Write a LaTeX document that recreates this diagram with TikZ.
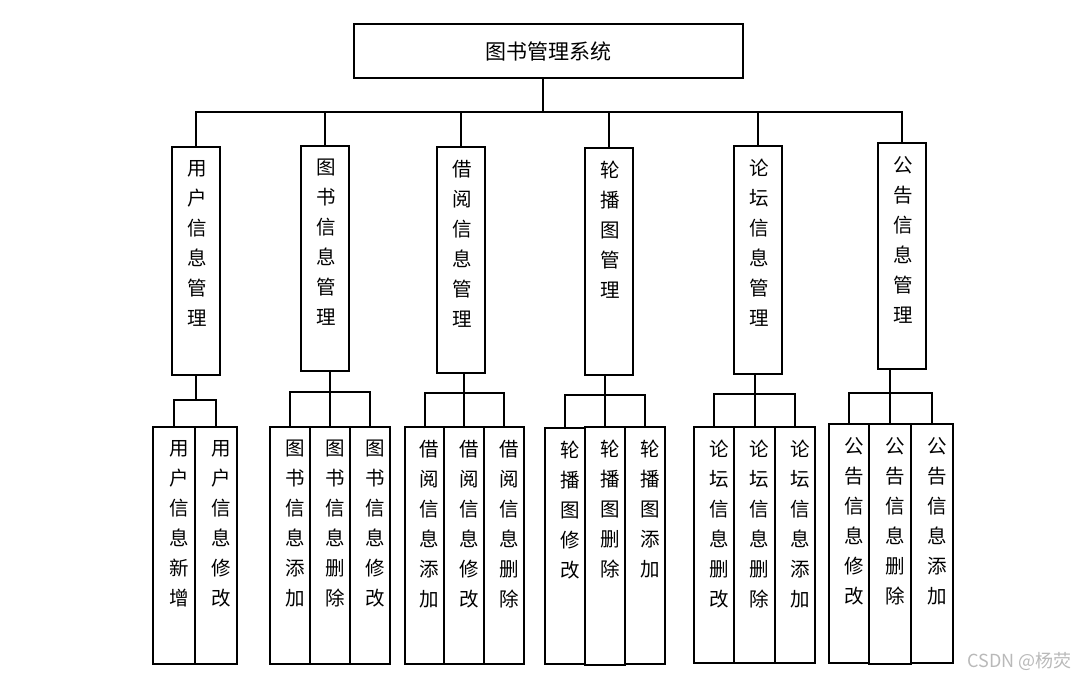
\documentclass[tikz,border=0pt]{standalone}
\usepackage{fontspec}
\setmainfont{Noto Sans CJK SC}
\usetikzlibrary{positioning,calc}

% one character per line
\newcommand\vstack[1]{\expandafter\vstackA#1\relax}
\def\vstackA#1#2{#1\ifx\relax#2\else\\\expandafter\vstackA\expandafter#2\fi}

\tikzset{
  frame/.style={draw,line width=2pt,inner sep=0pt,anchor=north west},
  vlabel/.style={anchor=north,align=center,inner sep=0pt,
    font=\fontsize{19.5}{30}\selectfont},
  link/.style={line width=2pt},
}

\begin{document}
\begin{tikzpicture}[x=1pt,y=-1pt]
\useasboundingbox (0,0) rectangle (1086,679);
% top box
\node[frame,minimum width=389pt,minimum height=54pt,
      font=\fontsize{21}{24}\selectfont] (root) at (353,23) {图书管理系统};
% second row
\foreach \n/\x/\y/\h/\txt in {m1/171/146/228/用户信息管理,
                              m2/300/145/225/图书信息管理,
                              m3/436/146/226/借阅信息管理,
                              m4/584/147/227/轮播图管理,
                              m5/733/145/228/论坛信息管理,
                              m6/877/142/226/公告信息管理}{
  \node[frame,minimum width=48pt,minimum height=\h pt] (\n) at (\x,\y) {};
  \node[vlabel] (\n-t) at ($(\n.north)+(1,14)$) {\vstack{\txt}};
}
% leaves
\foreach \n/\x/\y/\w/\h/\txt in {
  l11/152/426/42/237/用户信息新增, l12/194/426/42/237/用户信息修改,
  l21/269/426/40/237/图书信息添加, l22/309/426/40/237/图书信息删除, l23/349/426/40/237/图书信息修改,
  l31/404/426/39/237/借阅信息添加, l32/443/426/40/237/借阅信息修改, l33/483/426/40/237/借阅信息删除,
  l41/544/427/40/236/轮播图修改, l42/584/426/40/238/轮播图删除, l43/624/426/40/237/轮播图添加,
  l51/693/426/40/236/论坛信息删改, l52/733/426/41/236/论坛信息删除, l53/774/426/40/236/论坛信息添加,
  l61/828/423/40/239/公告信息修改, l62/868/423/42/240/公告信息删除, l63/910/423/42/239/公告信息添加}{
  \node[frame,minimum width=\w pt,minimum height=\h pt] (\n) at (\x,\y) {};
  \node[vlabel] (\n-t) at ($(\n.north)+(5,14)$) {\vstack{\txt}};
}
% top to second row
\draw[link] (root.south) ++(-6,0) coordinate (rs) -- ++(0,33) coordinate (hub);
\draw[link] (m1.north) |- (hub) -| (m6.north);
\foreach \n in {m2,m3,m4,m5}
  \draw[link] (\n.north) -- (\n.north |- hub);
% second row to leaves
\draw[link] (m1.south) -- ++(0,24) coordinate (j1);
\draw[link] (l11.north) |- (j1) -| (l12.north);
\foreach \m/\a/\b/\c/\jy in {m2/l21/l22/l23/392, m3/l31/l32/l33/393,
                            m4/l41/l42/l43/395, m5/l51/l52/l53/394,
                            m6/l61/l62/l63/393}{
  \draw[link] (\m.south -| \b.north) -- (\b.north);
  \draw[link] (\a.north) |- (\b.north |- 0,\jy) -| (\c.north);
}
\node[anchor=west,text=gray!55,font=\fontsize{18}{20}\selectfont] (mark) at (964,661) {CSDN @杨荧};
\end{tikzpicture}
\end{document}
